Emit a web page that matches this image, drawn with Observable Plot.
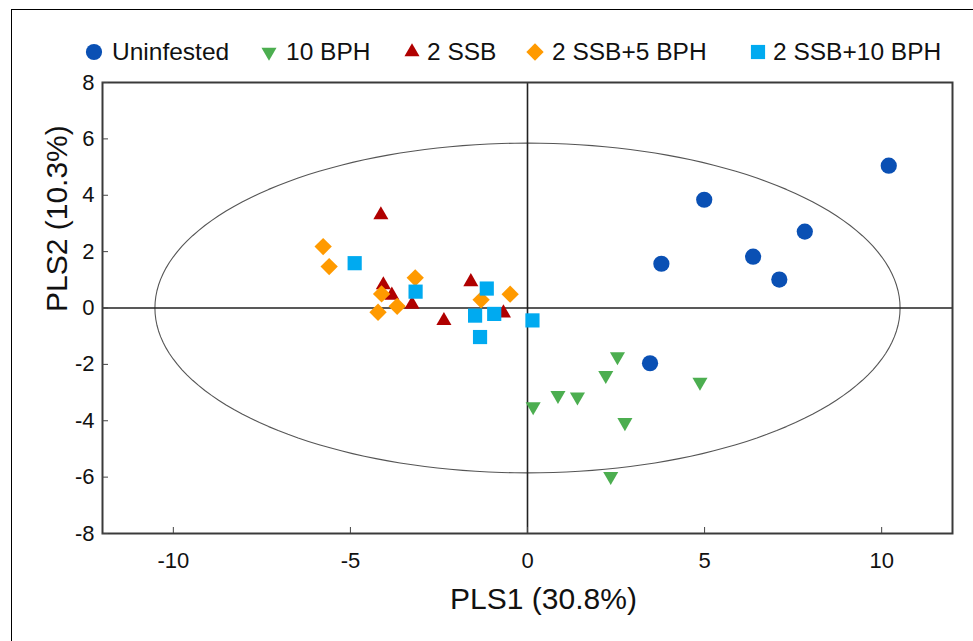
<!DOCTYPE html>
<html><head><meta charset="utf-8">
<script src="https://cdn.jsdelivr.net/npm/d3@7"></script>
<script src="https://cdn.jsdelivr.net/npm/@observablehq/plot@0.6"></script>
<style>
body{margin:0;background:#fff;font-family:"Liberation Sans",Arial,sans-serif;}
#wrap{position:relative;width:973px;height:641px;overflow:hidden;background:#fff;}
#border{position:absolute;left:11px;top:9px;width:1000px;height:700px;border-left:1px solid #000;border-top:1px solid #000;}
#chart{position:absolute;left:0;top:0;}
.lg-text{position:absolute;top:37px;height:30px;line-height:30px;font-size:24.5px;color:#111;white-space:nowrap;}
.lg-mark{position:absolute;top:42px;}
</style></head>
<body><div id="wrap"><div id="border"></div><div id="chart"></div><div id="legend"></div></div>
<script>
// ---- data ----
const groups = ["Uninfested", "10 BPH", "2 SSB", "2 SSB+5 BPH", "2 SSB+10 BPH"];

const uninfestedX = [10.20, 4.99, 7.83, 6.37, 7.11, 3.78, 3.46];
const uninfestedY = [5.05, 3.84, 2.71, 1.82, 1.01, 1.57, -1.96];

const bph10X = [2.54, 2.21, 0.86, 1.41, 0.16, 2.75, 4.87, 2.35];
const bph10Y = [-1.72, -2.39, -3.10, -3.15, -3.50, -4.06, -2.63, -5.97];

const ssb2X = [-4.14, -4.07, -3.83, -3.26, -1.60, -2.36, -0.68];
const ssb2Y = [3.30, 0.82, 0.45, 0.13, 0.93, -0.45, -0.18];

const ssb2bph5X = [-5.77, -5.60, -3.17, -4.12, -3.68, -4.22, -1.31, -0.49];
const ssb2bph5Y = [2.18, 1.47, 1.07, 0.50, 0.06, -0.15, 0.29, 0.49];

const ssb2bph10X = [-4.88, -3.16, -1.15, -1.48, -0.94, -1.34, 0.14];
const ssb2bph10Y = [1.59, 0.58, 0.69, -0.27, -0.21, -1.03, -0.44];

const ellipseRadii = [10.52, 5.85]; // PLS1, PLS2 semi-axes of confidence ellipse

const xTicks = [-10, -5, 0, 5, 10];
const yTicks = [-8, -6, -4, -2, 0, 2, 4, 6, 8];
const xDomain = [-12, 12];
const yDomain = [-8, 8];
const xLabel = "PLS1 (30.8%)";
const yLabel = "PLS2 (10.3%)";

// ---- styles (kept separate from data) ----
const styles = [
  {symbol: "circle",   fill: "#0a50b4", r: 8.1, rotate: 0},
  {symbol: "triangle", fill: "#4cae50", r: 5.6, rotate: 180},
  {symbol: "triangle", fill: "#b00000", r: 5.6, rotate: 0},
  {symbol: "diamond2", fill: "#ff9a00", r: 7.8, rotate: 0},
  {symbol: "square",   fill: "#00aaf0", r: 8.0, rotate: 0}
];

const seriesX = [uninfestedX, bph10X, ssb2X, ssb2bph5X, ssb2bph10X];
const seriesY = [uninfestedY, bph10Y, ssb2Y, ssb2bph5Y, ssb2bph10Y];

const tables = groups.map((g, k) => seriesX[k].map((x, i) => ({group: g, x, y: seriesY[k][i]})));

// ellipse outline from its semi-axes
const ellipse = d3.range(0, 361, 2).map(a => {
  const t = a * Math.PI / 180;
  return {x: ellipseRadii[0] * Math.cos(t), y: ellipseRadii[1] * Math.sin(t)};
});

const fmt = d => String(d);

const chart = Plot.plot({
  width: 973,
  height: 641,
  marginLeft: 102,
  marginRight: 21,
  marginTop: 82,
  marginBottom: 108,
  x: {domain: xDomain},
  y: {domain: yDomain},
  style: {fontFamily: "'Liberation Sans', Arial, sans-serif", background: "transparent", color: "#111"},
  marks: [
    Plot.line(ellipse, {x: "x", y: "y", stroke: "#555", strokeWidth: 1.1}),
    Plot.ruleX([0], {stroke: "#222", strokeWidth: 1.6}),
    Plot.ruleY([0], {stroke: "#222", strokeWidth: 1.6}),
    Plot.frame({stroke: "#3a3a3a", strokeWidth: 2}),
    Plot.axisX({ticks: xTicks, tickFormat: fmt, tickSize: 6, dy: -6, tickPadding: 19, fontSize: 22, label: null, stroke: "#444", fill: "#111"}),
    Plot.axisY({ticks: yTicks, tickFormat: fmt, tickSize: 6, dx: 6, tickPadding: 8, fontSize: 22, label: null, stroke: "#444", fill: "#111"}),
    ...tables.map((t, k) => Plot.dot(t, {
      x: "x", y: "y",
      symbol: styles[k].symbol,
      fill: styles[k].fill,
      r: styles[k].r,
      rotate: styles[k].rotate,
      stroke: "none"
    })),
    Plot.text([xLabel], {text: d => d, frameAnchor: "bottom", lineAnchor: "bottom", dx: 16, dy: 75, fontSize: 30, fill: "#111"}),
    Plot.text([yLabel], {text: d => d, frameAnchor: "left", rotate: -90, dx: -45, dy: 4, fontSize: 30, fill: "#111"})
  ]
});
document.getElementById("chart").appendChild(chart);

// ---- legend (HTML above the plot area) ----
const legendMarkX = [94, 269, 412, 535, 758];
const legendTextX = [112, 286, 427, 552, 773];
const symMap = {circle: d3.symbolCircle, triangle: d3.symbolTriangle, diamond2: d3.symbolDiamond2, square: d3.symbolSquare};
const legend = document.getElementById("legend");
groups.forEach((g, k) => {
  const s = styles[k];
  const size = Math.PI * s.r * s.r;
  const path = d3.symbol(symMap[s.symbol], size)();
  const m = document.createElement("div");
  m.className = "lg-mark";
  m.style.left = (legendMarkX[k] - 10) + "px";
  m.innerHTML = `<svg width="20" height="20" viewBox="-10 -10 20 20"><path d="${path}" fill="${s.fill}" transform="rotate(${s.rotate})"/></svg>`;
  legend.appendChild(m);
  const t = document.createElement("div");
  t.className = "lg-text";
  t.style.left = legendTextX[k] + "px";
  t.textContent = g;
  legend.appendChild(t);
});
</script>
</body></html>
